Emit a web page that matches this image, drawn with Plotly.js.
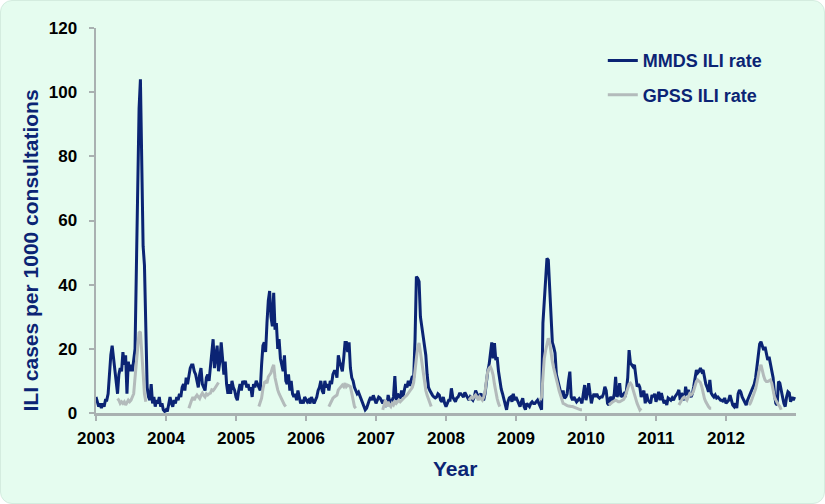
<!DOCTYPE html>
<html>
<head>
<meta charset="utf-8">
<script src="https://cdn.plot.ly/plotly-3.0.1.min.js"></script>
<style>
  html, body { margin:0; padding:0; background:#ffffff; }
  #wrap { position:absolute; left:0; top:0; width:823px; height:502px; border:1px solid #d4ecdf; border-radius:12px; background:#e5fcef; overflow:hidden; }
  #chart { width:825px; height:504px; position:absolute; left:-1px; top:-1px; }
</style>
</head>
<body>
<div id="wrap"><div id="chart"></div></div>
<script>
// ---- Data (weekly values) ----
const years = [2003, 2004, 2005, 2006, 2007, 2008, 2009, 2010, 2011, 2012];
const tickLabels = ["2003","2004","2005","2006","2007","2008","2009","2010","2011","2012"];
const weeksPerYear = 52;

// MMDS ILI rate, 52 weekly values per year
const mmds2003 = [5,3,2,3,1.5,3,2,4,4,6, 13,18,21,17,13,8,6,12,14,13, 19,15,18,6,16,13,15,13,16,20, 45,75,95,104,75,52,46,20,8,5, 4,9,3,5,2,4,3,5,2,3, 1,0.5];
const mmds2004 = [1,0.5,3,5,3,2,4,3,5,4, 6,5,8,9,7,11,9,12,14,15, 15,13,12,10,8,12,14,9,8,7, 11,12,10,14,18,23,14,18,21,13, 16,22,17,12,16,9,6,9,6,10, 8,7];
const mmds2005 = [5,4,7,9,7,10,9,10,8,9, 7,8,5,9,8,10,9,8,7,15, 21,22,19,28,35,38,30,27,37.5,26, 28,20,23,17,15,13,18,10,9,12, 7,10,6,5,6,4,7,5,3,4, 3,5];
const mmds2006 = [4,3.5,4,3,5,4,3,4,5,7, 8,10,7,6,10,8,9,7,10,9, 12,13,13,11,18,16,14,13,17,22, 22,19,22,14,11,10,8,7,6,6.5, 5.5,4,3,2,1,1.5,3,4,5,4, 5.5,4];
const mmds2007 = [3,4,5,4.7,4,3,4,2.5,2,5.6, 4,3,4,5,11.5,4,6,5,4.5,7, 5,7,9,8,10,8.5,10,11.5,11,23, 42.5,42,41,30,27,24,20,18,12,8, 7,6,5.5,5,4.7,5,6,5.6,4,3.5, 5,3];
const mmds2008 = [2,3,4,4,7.7,5,4,3.5,4.7,5, 6,6,5.5,5,6.4,5.6,4.5,4,5,4.5, 4,5,7,6,4.7,5.5,6,4.5,4,6, 10,13,15,18,22,17,21.8,16.5,17.4,13, 9.3,7.5,6,4,3,1,3.5,4.7,5,3.5, 6,4];
const mmds2009 = [5,4,3,2,3.5,4.6,2,1,3,2.5, 2,3,3.5,3,3,3.5,4,3,2,1, 28,36,44,48.2,47.7,40,28,22,20.6,18.7, 12,10,9,7,5,7,4.6,5,6,10, 12.9,5,4,5,4,3.5,4,4.5,4,3, 6,8.7];
const mmds2010 = [4,6,9.3,6,3,5,6,5,6,5, 4.6,5,5,6,8.2,7,3,2.5,5,4.5, 4,6,11.3,5,6,9.3,5,5.5,6,5, 7,11,19.6,15.6,15,14.4,15,10.3,8.2,9, 8,5,6,7,3,6,4,3.5,3,5.6, 5,6];
const mmds2011 = [3.5,5,6.6,4,6.2,4.5,3,4,2.5,4.7, 4.2,4,4.7,4,5,5.5,6.2,7.2,4,6.2, 5,4,8.2,5.6,7.2,5.6,5,6,8.2,11.8, 13.4,12.5,13,14,12.9,13.4,11,9,8,6.6, 10.3,6.2,5.5,5,5.6,4.7,5,4.5,4,4, 3.5,4.7];
const mmds2012 = [3,3.5,4,5.6,4,2.5,2,3,1.5,6, 7.2,6.5,5,4,3.5,2.5,4,5,5.6,6.6, 7.5,9,11,14,17.5,21.5,22.2,21,19.6,20.6, 18.7,16.5,17.5,15.6,14,11,6,3,2.5,9.8, 9.3,6.5,5,3,2,5,6.6,6.2,3.5,5, 4,5];

// GPSS ILI rate: seasonal reporting; first reported week of each year and the weekly values
const gpssStartWeek = [16, 17, 17, 17, 5, 17, 18, 17, 17, 17];
const gpss2003 = [4.5,4,3,3.5,3,3.5,2.5,3.5,4,3.5, 4,5,6,11,16,22,25,25.3,19,11, 6,3.5];
const gpss2004 = [1.5,3,4,5,4,5,5.6,5,4.5,5.5, 6.2,5.5,5,6,5.6,6,6.2,7.2,7,7.5, 8.2,8.7,9.5];
const gpss2005 = [2,3.5,4.6,7.5,9.5,9.8,9.3,11.3,12,12.5, 14,15,11,8.5,7.2,6,5,4,3,2.5, 2];
const gpss2006 = [2,3,4,4.6,5,5.3,5.6,7.2,7.7,8.5, 8.7,8.2,9.3,8.2,8.7,8.5,8.2,6.2,3.5,2, 1.5];
const gpss2007 = [1,3,4,2,3.5,2.5,2,3,2.5,3.5, 3,3.5,4,3.5,4,4.5,5,5.2,5.6,6.2, 6.6,7,8,9.5,12.5,17,20.5,21.8,19,16, 11.5,9,7,5.5,4.5,3,2];
const gpss2008 = [4,4.6,5,4.6,5,5.6,5,4,5,4.5, 4,5,6.6,10,13,14,14.4,13.4,11.8,9, 6.5,4.5,3,2];
const gpss2009 = [4,5,11,17,19.5,21,23.3,22,18.5,16, 14,12.5,10.5,8.8,7,5.5,4,3,2.8,2.5, 2.3,2.2,2,2,2,1.8,1.6,1.5,1.3,1, 1,1];
const gpss2010 = [2.5,3,3.2,3.5,3.7,4,3.8,3.5,3.5,3.8, 4,4.2,5,6.5,7.8,9,9.3,8.7,7.2,5.5, 4,3,2,1,1.5];
const gpss2011 = [2.5,3.5,4,4.7,5,4.5,4,5,6,5.6, 6,7,8.7,9.8,10.3,10,9.5,8.2,6.2,4.5, 3.5,2.5,2,1.5,1.5];
const gpss2012 = [2.5,3,4,5,6,7.5,9.5,11.8,14,15, 13,11.5,10.3,9.8,9.8,10,10.3,9.3,7,5, 4,3,2.5,2,1];

const mmdsByYear = [mmds2003, mmds2004, mmds2005, mmds2006, mmds2007, mmds2008, mmds2009, mmds2010, mmds2011, mmds2012];
const gpssByYear = [gpss2003, gpss2004, gpss2005, gpss2006, gpss2007, gpss2008, gpss2009, gpss2010, gpss2011, gpss2012];

// ---- Build series on a weekly time axis ----
const xs = [], mm = [], gp = [];
years.forEach((yr, k) => {
  for (let w = 0; w < weeksPerYear; w++) {
    xs.push(yr + w / weeksPerYear);
    mm.push(mmdsByYear[k][w]);
    const j = w - gpssStartWeek[k];
    gp.push(j >= 0 && j < gpssByYear[k].length ? gpssByYear[k][j] : null);
  }
});

const navy = '#0b2474';
const grey = '#b3bbbb';
const axisGrey = '#a9b1b1';
const fontFam = 'Liberation Sans, Arial, Helvetica, sans-serif';

const traces = [
  { x: xs, y: mm, type: 'scatter', mode: 'lines', name: 'MMDS ILI rate',
    line: { color: navy, width: 3 }, legendgroup: 'a', hoverinfo: 'skip' },
  { x: xs, y: gp, type: 'scatter', mode: 'lines', name: 'GPSS ILI rate',
    line: { color: grey, width: 3 }, connectgaps: false, legendgroup: 'b', hoverinfo: 'skip' }
];

const layout = {
  width: 825, height: 504,
  margin: { l: 96, r: 29, t: 28, b: 91 },
  paper_bgcolor: 'rgba(0,0,0,0)',
  plot_bgcolor: 'rgba(0,0,0,0)',
  font: { family: fontFam, color: '#000' },
  showlegend: true,
  legend: {
    x: 0.724, y: 0.963, xanchor: 'left', yanchor: 'top',
    bgcolor: 'rgba(0,0,0,0)',
    font: { family: fontFam, size: 18, color: navy, weight: 'bold' },
    traceorder: 'grouped', tracegroupgap: 8
  },
  xaxis: {
    range: [2003, 2013], fixedrange: true,
    tickmode: 'array', tickvals: years, ticktext: tickLabels,
    showgrid: false, zeroline: false,
    showline: true, linecolor: axisGrey, linewidth: 2.5,
    ticks: 'outside', ticklen: 5, tickwidth: 2, tickcolor: axisGrey,
    tickfont: { family: fontFam, size: 17, color: '#000', weight: 'bold' },
    ticklabelstandoff: 3
  },
  yaxis: {
    range: [0, 120], fixedrange: true,
    tickmode: 'linear', tick0: 0, dtick: 20,
    showgrid: false, zeroline: false,
    showline: true, linecolor: axisGrey, linewidth: 2.5,
    ticks: 'outside', ticklen: 5, tickwidth: 2, tickcolor: axisGrey,
    tickfont: { family: fontFam, size: 17, color: '#000', weight: 'bold' },
    ticklabelstandoff: 8
  },
  annotations: [
    { text: 'ILI cases per 1000 consultations', xref: 'paper', yref: 'paper',
      x: (31 - 96) / 700, y: 0.422, xanchor: 'center', yanchor: 'middle',
      textangle: -90, showarrow: false,
      font: { family: fontFam, size: 21, color: navy, weight: 'bold' } },
    { text: 'Year', xref: 'paper', yref: 'paper',
      x: 0.513, y: (413 - 468) / 385, xanchor: 'center', yanchor: 'middle',
      showarrow: false,
      font: { family: fontFam, size: 21, color: navy, weight: 'bold' } }
  ]
};

Plotly.newPlot('chart', traces, layout, { displayModeBar: false, staticPlot: true });
</script>
</body>
</html>
